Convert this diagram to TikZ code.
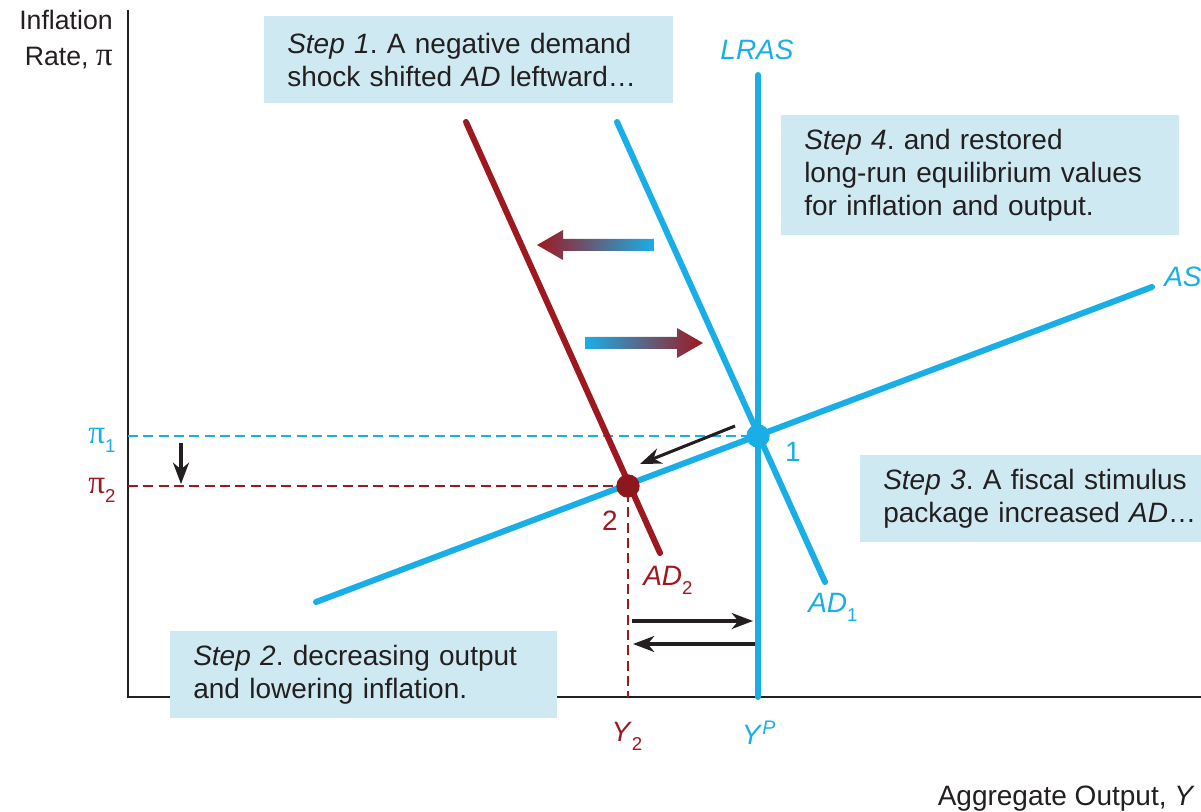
\documentclass[tikz,border=0pt]{standalone}
\usepackage{fontspec}
\setmainfont{Liberation Sans}
\newfontfamily\pifont{Liberation Serif}
\usepackage{xcolor}
\usetikzlibrary{arrows.meta, positioning, shapes}
\definecolor{lras}{RGB}{26,174,230}
\definecolor{adred}{RGB}{158,24,32}
\definecolor{boxfill}{RGB}{207,233,242}
\definecolor{inkblack}{RGB}{35,31,32}
\newcommand{\pisym}{{\pifont\fontsize{25}{25}\selectfont π}}
\newcommand{\lowsub}[1]{\raisebox{-0.6ex}{\fontsize{14}{14}\selectfont #1}}
\frenchspacing

\begin{document}
\begin{tikzpicture}[x=0.75pt, y=-0.75pt,
    every node/.style={font=\fontsize{21}{25}\selectfont, inner sep=0pt},
    axis/.style={line width=2.2pt, draw=inkblack},
    curve/.style={line width=4.5pt, line cap=round},
    guide/.style={line width=1.9pt, dash pattern=on 7.5pt off 4pt},
    stepbox/.style={fill=boxfill, align=left, inner xsep=17.25pt, anchor=north west, text=inkblack},
    move/.style={line width=2.3pt, draw=inkblack, -{Stealth[length=16pt, width=12pt, inset=5pt]}},
    eqdot/.style={circle, minimum size=17.5pt, inner sep=0pt}]
    \useasboundingbox (0,0) rectangle (1201,812);

    % Axes
    \coordinate (ytop) at (128,10);
    \coordinate (O) at (128,697);
    \coordinate (xend) at (1201,697);
    \draw[axis] (ytop) -- (O) -- (xend);
    \node[align=right, anchor=north east, font=\fontsize{20}{27}\selectfont, text=inkblack] (ylab) at (113,10) {Inflation\\Rate, \pisym};
    \node[anchor=base east, text=inkblack] (xlab) at (1195,805) {Aggregate Output, \textit{Y}};

    % Equilibria and guide lines
    \coordinate (e1) at (758,436);
    \coordinate (e2) at (628,486);
    \coordinate (pi1) at (128,436);
    \coordinate (pi2) at (128,486);
    \coordinate (y2) at (628,697);
    \draw[guide, lras] (pi1) -- (e1);
    \draw[guide, adred] (pi2) -- (e2) -- (y2);
    \node[text=lras] (pi1lab) at (102,440) {\pisym\lowsub{1}};
    \node[text=adred] (pi2lab) at (102,490) {\pisym\lowsub{2}};
    \node[text=adred] (y2lab) at (627,736) {\textit{Y}\lowsub{2}};
    \node[text=lras] (yplab) at (759,733) {\textit{Y}\textsuperscript{\textit{P}}};

    % Curves
    \coordinate (lrastop) at (758,75);
    \coordinate (lrasbot) at (758,697);
    \coordinate (ad1top) at (617,122);
    \coordinate (ad1bot) at (825,582);
    \coordinate (ad2top) at (466,122);
    \coordinate (ad2bot) at (660,553);
    \coordinate (asleft) at (316,602);
    \coordinate (asright) at (1152,287);
    \draw[curve, lras] (lrastop) -- (lrasbot);
    \draw[curve, lras] (ad1top) -- (ad1bot);
    \draw[curve, lras] (asleft) -- (asright);
    \draw[curve, adred] (ad2top) -- (ad2bot);
    \node[eqdot, fill=lras] (dot1) at (e1) {};
    \node[eqdot, fill=adred!90!black] (dot2) at (e2) {};
    \node[text=lras] (e1lab) at (793,452) {1};
    \node[text=adred] (e2lab) at (610,521) {2};
    \node[text=lras, font=\fontsize{21}{25}\selectfont\itshape] (lraslab) at (757,50) {LRAS};
    \node[text=lras, anchor=west, font=\fontsize{21}{25}\selectfont\itshape] (aslab) at (1164,277) {AS};
    \node[text=adred, anchor=west] (ad2lab) at (643,580) {\textit{AD}\lowsub{2}};
    \node[text=lras, anchor=west] (ad1lab) at (808,607) {\textit{AD}\lowsub{1}};

    % Shift arrows
    \shade[left color=adred, right color=lras] (537,245) -- (563,230) -- (563,239) -- (654,239) -- (654,251) -- (563,251) -- (563,260) -- cycle;
    \shade[left color=lras, right color=adred] (585,337) -- (677,337) -- (677,328) -- (703,343) -- (677,358) -- (677,349) -- (585,349) -- cycle;
    \coordinate (slidea) at (735,426);
    \coordinate (slideb) at (640,464);
    \coordinate (gapa) at (632,621);
    \coordinate (gapb) at (753,621);
    \coordinate (gapc) at (755,644);
    \coordinate (gapd) at (633,644);
    \coordinate (dropa) at (181,443);
    \coordinate (dropb) at (181,484);
    \draw[move] (slidea) -- (slideb);
    \draw[move] (gapa) -- (gapb);
    \draw[move] (gapc) -- (gapd);
    \draw[move] (dropa) -- (dropb);

    % Step boxes
    \node[stepbox, text width=272.25pt, minimum height=65.25pt] (step1) at (264,16) {\textit{Step 1}. A negative demand\\shock shifted \textit{AD} leftward\ldots};
    \node[stepbox, text width=264pt, minimum height=90pt] (step4) at (781,115) {\textit{Step 4}. and restored\\long-run equilibrium values\\for inflation and output.};
    \node[stepbox, text width=262pt, minimum height=65.25pt] (step3) at (860,455) {\textit{Step 3}. A fiscal stimulus\\package increased \textit{AD}\ldots};
    \node[stepbox, text width=255.75pt, minimum height=65.25pt] (step2) at (170,631) {\textit{Step 2}. decreasing output\\and lowering inflation.};
\end{tikzpicture}
\end{document}
